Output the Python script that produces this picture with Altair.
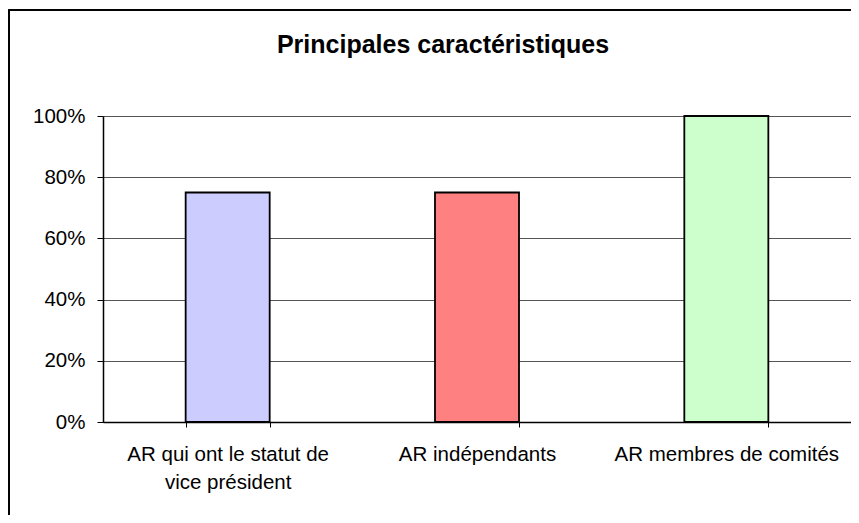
import altair as alt
import pandas as pd

categories = ["AR qui ont le statut de\nvice président", "AR indépendants", "AR membres de comités"]
values = [0.75, 0.75, 1.0]
colors = ["#CCCCFF", "#FF8080", "#CCFFCC"]
title_text = "Principales caractéristiques"

df = pd.DataFrame({"cat": categories, "val": values})

FONT = "Liberation Sans"

bars = alt.Chart(df).mark_bar(stroke="black", strokeWidth=1.8).encode(
    x=alt.X("cat:N", sort=categories, title=None,
            scale=alt.Scale(paddingInner=0.663, paddingOuter=0.3315),
            axis=alt.Axis(labelAngle=0, labelFont=FONT, labelFontSize=20.5, labelColor="black",
                          labelExpr="split(datum.label, '\\n')", labelLineHeight=28,
                          labelPadding=17, tickBand="extent", tickSize=5, tickColor="black",
                          domainColor="black", domainWidth=1.5, grid=False, labelLimit=400)),
    y=alt.Y("val:Q", title=None,
            scale=alt.Scale(domain=[0, 1]),
            axis=alt.Axis(values=[0, 0.2, 0.4, 0.6, 0.8, 1.0], format=".0%",
                          labelFont=FONT, labelFontSize=20.5, labelColor="black",
                          labelPadding=12, tickSize=6, tickColor="black",
                          domainColor="black", domainWidth=1.5,
                          gridColor="#555555", gridWidth=1)),
    color=alt.Color("cat:N", sort=categories, legend=None,
                    scale=alt.Scale(domain=categories, range=colors)),
)

border = alt.Chart(df).mark_rect(fill=None, stroke="black", strokeWidth=1.5, clip=False).encode(
    x=alt.value(-94), x2=alt.value(900), y=alt.value(-106), y2=alt.value(600)
)

title = alt.Chart(pd.DataFrame({"t": [title_text]})).mark_text(
    font=FONT, fontSize=25, fontWeight="bold", color="black",
    align="center", baseline="alphabetic"
).encode(text="t:N", x=alt.value(340), y=alt.value(-63))

chart = alt.layer(border, bars, title).properties(
    width=748, height=306,
    autosize=alt.AutoSizeParams(type="none"),
    padding={"left": 95, "top": 108, "right": 0, "bottom": 93},
).configure_view(stroke="#555555").configure(background="white")

chart.save("out.html", embed_options={"renderer": "svg", "actions": False})
